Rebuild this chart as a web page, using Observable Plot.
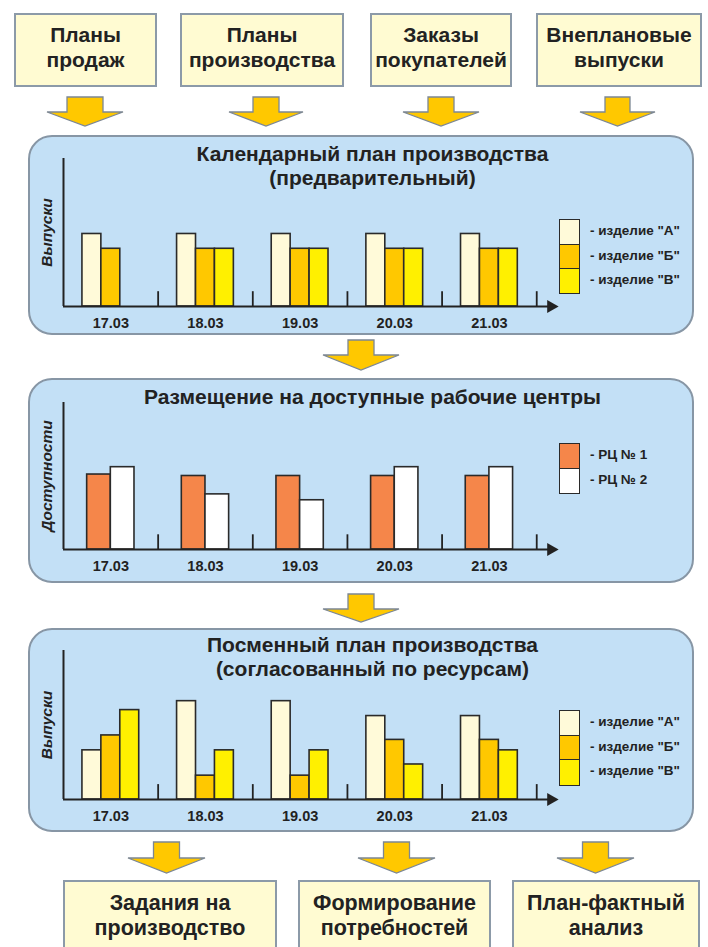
<!DOCTYPE html>
<html><head><meta charset="utf-8">
<script src="https://cdn.jsdelivr.net/npm/d3@7"></script>
<script src="https://cdn.jsdelivr.net/npm/@observablehq/plot@0.6"></script>
<style>
body{margin:0;background:#fff;font-family:"Liberation Sans",Arial,sans-serif;color:#222}
#root{position:relative;width:708px;height:947px;overflow:hidden}
.box{position:absolute;box-sizing:border-box;background:#FFFBD2;border:2px solid #8C9AA8;text-align:center;font-weight:bold;color:#222;white-space:nowrap}
.panel{position:absolute;box-sizing:border-box;background:#C3E0F6;border:2px solid #8796a5;border-radius:24px}
.ptitle{position:absolute;text-align:center;font-weight:bold;font-size:21px;line-height:24px;color:#222;white-space:nowrap}
.plotwrap{position:absolute}
.sw{position:absolute;box-sizing:border-box;border:1.6px solid #2a2a2a;width:21px}
.lab{position:absolute;font-weight:bold;font-size:13.5px;color:#222;white-space:nowrap}
svg.arr{position:absolute;overflow:visible}
</style></head>
<body><div id="root"></div>
<script>
// ---------- data ----------
const dates = ["17.03", "18.03", "19.03", "20.03", "21.03"];
const products = ["изделие \"А\"", "изделие \"Б\"", "изделие \"В\""];
const productColors = ["#FFFAD9", "#FFC800", "#FFF000"];
const centers = ["РЦ № 1", "РЦ № 2"];
const centerColors = ["#F5864A", "#FFFFFF"];

// Календарный план (предварительный)
const prelimA = [4.9, 4.9, 4.9, 4.9, 4.9];
const prelimB = [3.9, 3.9, 3.9, 3.9, 3.9];
const prelimV = [null, 3.9, 3.9, 3.9, 3.9];
// Доступности рабочих центров
const capRC1 = [5.1, 5.0, 5.0, 5.0, 5.0];
const capRC2 = [5.6, 3.75, 3.35, 5.6, 5.6];
// Посменный план (согласованный)
const shiftA = [3.3, 6.6, 6.6, 5.6, 5.6];
const shiftB = [4.3, 1.6, 1.6, 4.0, 4.0];
const shiftV = [6.0, 3.3, 3.3, 2.35, 3.3];

const inputs = [["Планы", "продаж"], ["Планы", "производства"], ["Заказы", "покупателей"], ["Внеплановые", "выпуски"]];
const outputs = [["Задания на", "производство"], ["Формирование", "потребностей"], ["План-фактный", "анализ"]];
const panelTitles = [
  ["Календарный план производства", "(предварительный)"],
  ["Размещение на доступные рабочие центры"],
  ["Посменный план производства", "(согласованный по ресурсам)"]
];
const yLabels = ["Выпуски", "Доступности", "Выпуски"];

// ---------- layout ----------
const root = document.getElementById("root");
function el(tag, cls, css, html) {
  const e = document.createElement(tag);
  if (cls) e.className = cls;
  Object.assign(e.style, css);
  if (html != null) e.innerHTML = html;
  root.appendChild(e);
  return e;
}
const topBoxes = [[14, 143], [180, 164], [370, 142], [536, 166]];
inputs.forEach((t, i) => el("div", "box", {left: topBoxes[i][0] + "px", top: "13px", width: topBoxes[i][1] + "px", height: "74px", fontSize: "21px", lineHeight: "25px", paddingTop: "7px"}, t.join("<br>")));
const botBoxes = [[63, 214], [298, 193], [512, 188]];
outputs.forEach((t, i) => el("div", "box", {left: botBoxes[i][0] + "px", top: "880px", width: botBoxes[i][1] + "px", height: "90px", fontSize: "21.5px", lineHeight: "25px", paddingTop: "9px"}, t.join("<br>")));

function arrow(cx, top, shaftW, headW, shaftH, headH) {
  const ns = "http://www.w3.org/2000/svg";
  const s = document.createElementNS(ns, "svg");
  s.setAttribute("class", "arr");
  s.setAttribute("width", headW); s.setAttribute("height", shaftH + headH);
  s.style.left = (cx - headW / 2) + "px"; s.style.top = top + "px";
  const p = document.createElementNS(ns, "polygon");
  const a = headW / 2, b = shaftW / 2;
  p.setAttribute("points", [[a - b, 0], [a + b, 0], [a + b, shaftH], [headW, shaftH], [a, shaftH + headH], [0, shaftH], [a - b, shaftH]].map(q => q.join(",")).join(" "));
  p.setAttribute("fill", "#FFC800"); p.setAttribute("stroke", "#7c8794"); p.setAttribute("stroke-width", "1.3");
  s.appendChild(p); root.appendChild(s);
}
arrow(85, 97, 36, 76, 15, 14);
arrow(266, 97, 26, 74, 15, 14);
arrow(441, 97, 26, 76, 15, 14);
arrow(617, 97, 25, 75, 15, 14);

const panels = [
  {top: 135, h: 200, titleTop: 141.5, frameTop: 158, frameH: 148, series: [prelimA, prelimB, prelimV], names: products, colors: productColors, legTop: 219, cellH: 24.5},
  {top: 378, h: 205, titleTop: 384.5, frameTop: 402, frameH: 147, series: [capRC1, capRC2], names: centers, colors: centerColors, legTop: 443, cellH: 24.5},
  {top: 628, h: 204, titleTop: 632.5, frameTop: 650, frameH: 149, series: [shiftA, shiftB, shiftV], names: products, colors: productColors, legTop: 710, cellH: 24.7}
];

arrow(361, 340, 26, 76, 15, 15);
arrow(361, 594, 26, 76, 15, 13);
arrow(166, 842, 26, 77, 16, 15);
arrow(396, 842, 26, 77, 16, 15);
arrow(595, 842, 26, 77, 16, 15);

const unit = 94.6, xMax = 5.23, ml = 40, mr = 8, mt = 6, mb = 34;

panels.forEach((P, pi) => {
  el("div", "panel", {left: "28px", top: P.top + "px", width: "666px", height: P.h + "px"});
  el("div", "ptitle", {left: "40px", width: "665px", top: P.titleTop + "px"}, panelTitles[pi].join("<br>"));

  const rows = [];
  P.series.forEach((vals, k) => vals.forEach((v, i) => {
    if (v != null) rows.push({date: dates[i], i, k, name: P.names[k], value: v});
  }));
  const n = P.names.length + 2;
  const plot = Plot.plot({
    width: Math.round(ml + unit * xMax + mr),
    height: mt + P.frameH + mb,
    marginLeft: ml, marginRight: mr, marginTop: mt, marginBottom: mb,
    x: {domain: [0, xMax]},
    y: {domain: [0, 10], axis: null},
    color: {domain: P.names, range: P.colors},
    style: {background: "transparent", overflow: "visible", fontFamily: "'Liberation Sans', Arial, sans-serif", color: "#222"},
    marks: [
      Plot.rectY(rows, {x1: d => d.i + (d.k + 1) / n, x2: d => d.i + (d.k + 2) / n, y: "value", fill: "name", stroke: "#2a2a2a", strokeWidth: 1.6}),
      Plot.ruleX(dates, {x: (d, i) => i + 1, y1: 0, y2: 1, stroke: "#222", strokeWidth: 1.8}),
      Plot.ruleX([0], {y1: 0, y2: 10, stroke: "#222", strokeWidth: 2}),
      Plot.ruleY([0], {x1: 0, x2: xMax - 0.05, stroke: "#222", strokeWidth: 2}),
      Plot.dot([xMax], {x: d => d, y: 0, symbol: "triangle", rotate: 90, r: 4.9, fill: "#222", stroke: "none", dx: -7.5}),
      Plot.axisX({ticks: dates.map((d, i) => i + 0.5), tickFormat: v => dates[Math.floor(v)], tickSize: 0, tickPadding: 11, fontSize: 14.5, fontWeight: "bold", label: null}),
      Plot.text([yLabels[pi]], {frameAnchor: "left", textAnchor: "middle", rotate: -90, dx: -16, fontSize: 15.5, fontWeight: "bold", fontStyle: "italic", fill: "#222"})
    ]
  });
  const w = el("div", "plotwrap", {left: (63 - ml) + "px", top: (P.frameTop - mt) + "px"});
  w.appendChild(plot);

  P.names.forEach((nm, k) => {
    el("div", "sw", {left: "559px", top: (P.legTop + k * P.cellH) + "px", height: (P.cellH + 1.6) + "px", background: P.colors[k]});
    el("div", "lab", {left: "590px", top: (P.legTop + k * P.cellH) + "px", height: P.cellH + "px", lineHeight: P.cellH + "px"}, "- " + nm);
  });
});
</script>
</body></html>
